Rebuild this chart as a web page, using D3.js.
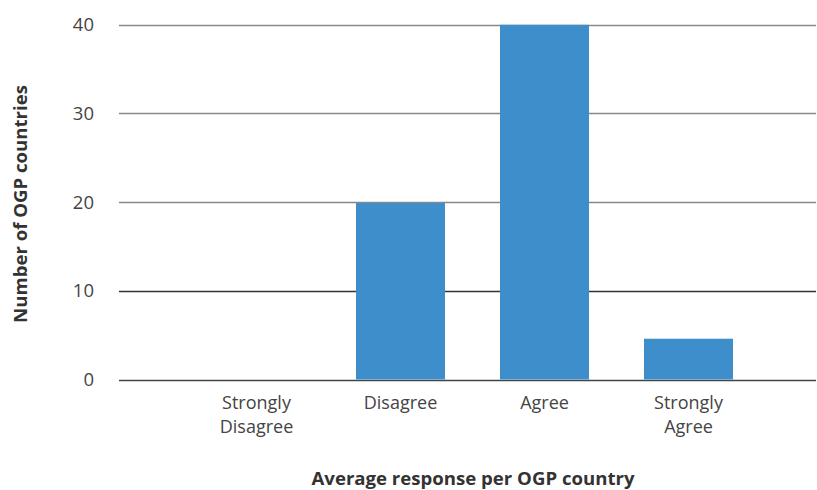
<!DOCTYPE html>
<html>
<head>
<meta charset="utf-8">
<script src="https://cdn.jsdelivr.net/npm/d3@7"></script>
<style>
  html, body { margin: 0; padding: 0; background: #fff; }
  svg { display: block; font-family: "Open Sans", Lato, sans-serif; }
</style>
</head>
<body>
<svg id="chart" width="817" height="490"></svg>
<script>
const categories = [["Strongly", "Disagree"], ["Disagree"], ["Agree"], ["Strongly", "Agree"]];
const categoryKeys = ["Strongly Disagree", "Disagree", "Agree", "Strongly Agree"];
const values = [0, 19.9, 40, 4.6];
const yTicks = [0, 10, 20, 30, 40];
const yTitle = "Number of OGP countries";
const xTitle = "Average response per OGP country";

const svg = d3.select("#chart");
const gridLeft = 119, gridRight = 816;

const y = d3.scaleLinear().domain([0, 40]).range([379.5, 24.8]);
const x = d3.scaleBand().domain(categoryKeys).range([184.5, 760.5]).paddingInner(0.382).paddingOuter(0.191);

// gridlines
svg.append("g").selectAll("line").data(yTicks).join("line")
  .attr("x1", gridLeft).attr("x2", gridRight)
  .attr("y1", d => Math.round(y(d)) + 0.5).attr("y2", d => Math.round(y(d)) + 0.5)
  .attr("stroke", d => d === 0 ? "#444" : (d === 10 ? "#333" : "#888"))
  .attr("stroke-width", 1.5);

// y tick labels
svg.append("g").selectAll("text").data(yTicks).join("text")
  .attr("x", 94).attr("y", d => y(d))
  .attr("dy", "0.35em")
  .attr("text-anchor", "end")
  .attr("font-size", 18.5)
  .attr("fill", "#444")
  .text(d => d);

// bars
svg.append("g").selectAll("rect").data(values).join("rect")
  .attr("x", (d, i) => x(categoryKeys[i]))
  .attr("width", x.bandwidth())
  .attr("y", d => y(d))
  .attr("height", d => y(0) - y(d))
  .attr("fill", "#3f8ecc");

// x category labels
const cl = svg.append("g").selectAll("text").data(categories).join("text")
  .attr("text-anchor", "middle")
  .attr("font-size", 18)
  .attr("fill", "#444");
cl.each(function(lines, i) {
  const cx = x(categoryKeys[i]) + x.bandwidth() / 2;
  d3.select(this).selectAll("tspan").data(lines).join("tspan")
    .attr("x", cx)
    .attr("y", (d, j) => 409 + j * 23.5)
    .text(d => d);
});

// axis titles
svg.append("text")
  .attr("x", 473).attr("y", 485)
  .attr("text-anchor", "middle")
  .attr("font-size", 18.6).attr("font-weight", "bold")
  .attr("fill", "#333")
  .text(xTitle);

svg.append("text")
  .attr("transform", "translate(27,204) rotate(-90)")
  .attr("text-anchor", "middle")
  .attr("font-size", 18.6).attr("font-weight", "bold")
  .attr("fill", "#333")
  .text(yTitle);
</script>
</body>
</html>
